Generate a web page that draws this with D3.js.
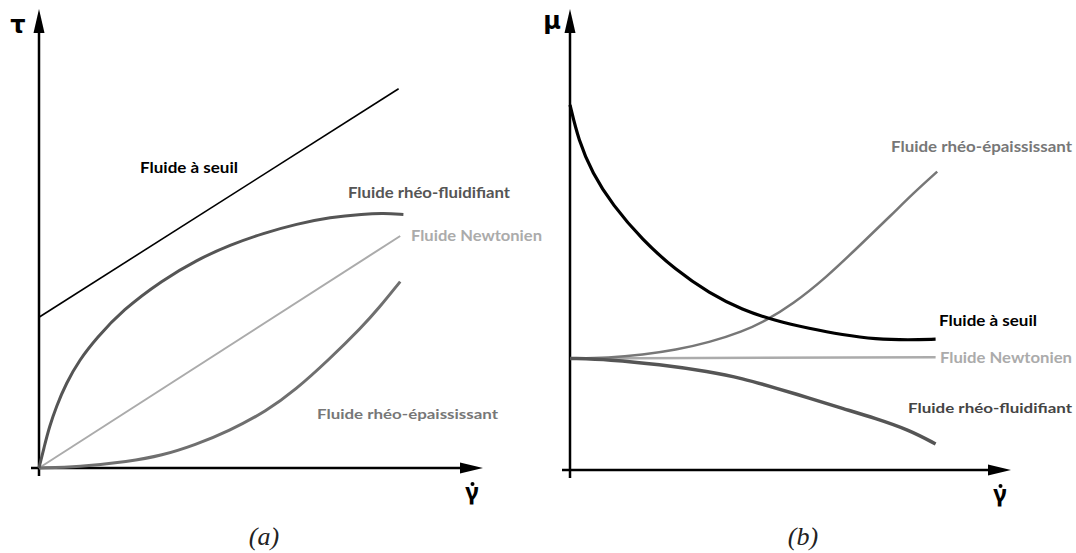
<!DOCTYPE html>
<html>
<head>
<meta charset="utf-8">
<script src="https://cdn.jsdelivr.net/npm/d3@7/dist/d3.min.js"></script>
<style>
  html, body { margin: 0; padding: 0; background: #fff; }
  svg { display: block; }
  .lbl { font-family: Lato, "Open Sans", sans-serif; font-weight: 700; }
</style>
</head>
<body>
<svg id="chart" width="1076" height="553"></svg>
<script>
// ---- Panel (a): shear stress τ versus shear rate γ̇ ----
const aSeuilX   = [0, 8.99];
const aSeuilY   = [3.77, 9.48];
const aNewtonX  = [0, 9.03];
const aNewtonY  = [0, 5.80];
const aFluidX   = [0, 0.13, 0.26, 0.43, 0.68, 1.01, 1.43, 2.09, 3.09, 3.94, 4.78, 5.61, 6.44, 7.28, 8.11, 8.61, 9.11];
const aFluidY   = [0, 0.53, 1.03, 1.53, 2.12, 2.70, 3.24, 3.95, 4.70, 5.20, 5.58, 5.87, 6.10, 6.27, 6.35, 6.37, 6.34];
const aEpaisX   = [0, 0.99, 2.24, 3.07, 3.91, 4.74, 5.70, 6.41, 7.24, 8.07, 8.49, 9.03];
const aEpaisY   = [0, 0.03, 0.16, 0.31, 0.58, 0.92, 1.43, 1.95, 2.70, 3.52, 3.99, 4.66];

// ---- Panel (b): viscosity μ versus shear rate γ̇ ----
const bSeuilX   = [0, 0.21, 0.56, 1.06, 1.81, 2.64, 3.48, 4.31, 5.14, 5.98, 6.81, 7.64, 8.48, 9.14];
const bSeuilY   = [9.13, 8.25, 7.42, 6.63, 5.75, 5.00, 4.42, 4.00, 3.73, 3.54, 3.38, 3.27, 3.25, 3.27];
const bNewtonX  = [0, 9.14];
const bNewtonY  = [2.79, 2.82];
const bEpaisX   = [0, 0.98, 1.81, 2.64, 3.48, 4.31, 4.89, 5.56, 6.39, 7.23, 8.06, 8.56, 9.18];
const bEpaisY   = [2.79, 2.80, 2.88, 3.00, 3.19, 3.46, 3.73, 4.14, 4.80, 5.60, 6.40, 6.90, 7.46];
const bFluidX   = [0, 0.98, 2.23, 3.48, 4.31, 5.14, 5.98, 6.81, 7.64, 8.48, 9.14];
const bFluidY   = [2.79, 2.76, 2.64, 2.46, 2.29, 2.05, 1.80, 1.54, 1.29, 1.00, 0.65];

// Label texts
const labelSeuil  = "Fluide à seuil";
const labelFluid  = "Fluide rhéo-fluidifiant";
const labelNewton = "Fluide Newtonien";
const labelEpais  = "Fluide rhéo-épaississant";
const panelTitles = ["(a)", "(b)"];
const yAxisSymbols = ["τ", "μ"];

const svg = d3.select("#chart");

const panels = [
  {
    ox: 39, oy: 468, xEnd: 483, title: panelTitles[0], ysym: yAxisSymbols[0],
    symX: 18, symY: 33, titleX: 264,
    curves: [
      { x: aSeuilX,  y: aSeuilY,  color: "#000",    w: 1.6 },
      { x: aNewtonX, y: aNewtonY, color: "#ababab", w: 2 },
      { x: aEpaisX,  y: aEpaisY,  color: "#6f6f6f", w: 3 },
      { x: aFluidX,  y: aFluidY,  color: "#555",    w: 3 }
    ],
    labels: [
      { t: labelSeuil,  x: 140, y: 173, w: 98,  c: "#000",    s: 15 },
      { t: labelFluid,  x: 348, y: 198, w: 162, c: "#555",    s: 15 },
      { t: labelNewton, x: 411, y: 241, w: 131, c: "#ababab", s: 15 },
      { t: labelEpais,  x: 317, y: 419, w: 181, c: "#777",    s: 13 }
    ]
  },
  {
    ox: 570, oy: 470, xEnd: 1011, title: panelTitles[1], ysym: yAxisSymbols[1],
    symX: 552, symY: 29, titleX: 803,
    curves: [
      { x: bNewtonX, y: bNewtonY, color: "#ababab", w: 2.5 },
      { x: bEpaisX,  y: bEpaisY,  color: "#777",    w: 2.5 },
      { x: bFluidX,  y: bFluidY,  color: "#555",    w: 3.5 },
      { x: bSeuilX,  y: bSeuilY,  color: "#000",    w: 3.2 }
    ],
    labels: [
      { t: labelEpais,  x: 891, y: 152, w: 181, c: "#777",    s: 15 },
      { t: labelSeuil,  x: 939, y: 326, w: 98,  c: "#000",    s: 15 },
      { t: labelNewton, x: 940, y: 363, w: 132, c: "#ababab", s: 15 },
      { t: labelFluid,  x: 908, y: 413, w: 164, c: "#444",    s: 14 }
    ]
  }
];

panels.forEach(p => {
  const g = svg.append("g");
  // 40 px per unit on both axes
  const x = d3.scaleLinear().domain([0, 10]).range([p.ox, p.ox + 400]);
  const y = d3.scaleLinear().domain([0, 10]).range([p.oy, p.oy - 400]);

  // Axes with arrowheads
  g.append("line").attr("x1", p.ox).attr("x2", p.ox).attr("y1", p.oy + 8).attr("y2", 30)
    .attr("stroke", "#000").attr("stroke-width", 2.5);
  g.append("path")
    .attr("d", `M${p.ox},9 L${p.ox - 5.5},33 L${p.ox + 5.5},33 Z`).attr("fill", "#000");
  g.append("line").attr("x1", p.ox - 8).attr("x2", p.xEnd - 20).attr("y1", p.oy).attr("y2", p.oy)
    .attr("stroke", "#000").attr("stroke-width", 2.5);
  g.append("path")
    .attr("d", `M${p.xEnd},${p.oy} L${p.xEnd - 23},${p.oy - 5.5} L${p.xEnd - 23},${p.oy + 5.5} Z`)
    .attr("fill", "#000");

  // Curves (B-spline through the sampled points keeps them smooth)
  const line = d3.line().x(d => x(d[0])).y(d => y(d[1])).curve(d3.curveBasis);
  p.curves.forEach(c => {
    g.append("path")
      .datum(c.x.map((v, i) => [v, c.y[i]]))
      .attr("d", line)
      .attr("fill", "none")
      .attr("stroke", c.color)
      .attr("stroke-width", c.w)
      .attr("stroke-linecap", "butt");
  });

  // Curve labels
  p.labels.forEach(l => {
    g.append("text").attr("class", "lbl")
      .attr("x", l.x).attr("y", l.y)
      .attr("fill", l.c).attr("font-size", l.s)
      .attr("textLength", l.w).attr("lengthAdjust", "spacingAndGlyphs")
      .text(l.t);
  });

  // Y-axis symbol
  g.append("text").attr("x", p.symX).attr("y", p.symY)
    .attr("text-anchor", "middle")
    .attr("font-family", "'DejaVu Sans', sans-serif").attr("font-weight", 700)
    .attr("font-size", 24).text(p.ysym);

  // X-axis symbol: gamma with a dot above
  const gx = p.xEnd - 11;
  g.append("text").attr("x", gx).attr("y", p.oy + 32)
    .attr("text-anchor", "middle")
    .attr("font-family", "'Noto Sans', sans-serif").attr("font-weight", 700)
    .attr("font-size", 24).text("γ");
  g.append("circle").attr("cx", gx + 0.5).attr("cy", p.oy + 16).attr("r", 2).attr("fill", "#000");

  // Panel caption
  g.append("text").attr("x", p.titleX).attr("y", 545)
    .attr("text-anchor", "middle")
    .attr("font-family", "'Liberation Serif', serif").attr("font-style", "italic")
    .attr("font-size", 26).attr("fill", "#222").text(p.title);
});
</script>
</body>
</html>
